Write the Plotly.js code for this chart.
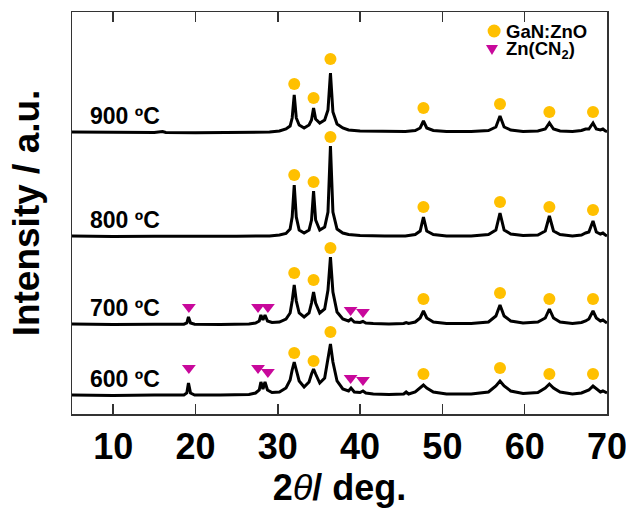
<!DOCTYPE html>
<html>
<head>
<meta charset="utf-8">
<script src="https://cdn.plot.ly/plotly-3.0.1.min.js"></script>
<style>html,body{margin:0;padding:0;background:#fff;}#chart{width:626px;height:508px;}</style>
</head>
<body>
<div id="chart"></div>
<script>
// ---- data (2theta in degrees, intensity in arbitrary units) ----
const temperatures = ['900 ºC', '800 ºC', '700 ºC', '600 ºC'];

const pattern900 = [[5,1],[10,0.5],[15,0.5],[16,1.5],[16.4,0.5],[20,0.3],[25,0.5],[29,1],[30.2,2],[31.0,4],[31.5,7],[31.75,15],[32.0,38],[32.25,15],[32.6,8],[33.2,5],[33.8,8],[34.1,13],[34.35,25],[34.6,14],[35.1,10],[35.7,13],[36.1,23],[36.4,60],[36.7,21],[37.2,9],[37.9,5],[38.6,3],[40,2],[43,1.5],[45.5,1.5],[46.7,2.5],[47.3,5],[47.7,12],[48.1,5],[48.9,2.5],[50.5,1.5],[53.5,1.5],[55.6,2.5],[56.5,6],[57.0,17],[57.5,6],[58.3,3],[59.8,1.5],[61.6,2],[62.5,4],[63.0,10],[63.5,4],[64.3,2],[65.8,1.5],[66.9,2.5],[67.4,4],[67.8,4],[68.3,10],[68.7,4],[69.2,3],[69.5,4],[69.8,2],[70,1.5]];

const pattern800 = [[5,1],[10,0.5],[15,0.8],[20,0.5],[25,0.8],[29,1],[30.2,2],[31.0,3.5],[31.5,8],[31.75,20],[32.0,52],[32.25,20],[32.6,7],[33.2,4],[33.8,7],[34.1,17],[34.35,46],[34.6,17],[35.1,7],[35.7,10],[36.1,25],[36.4,91],[36.7,25],[37.2,8],[37.9,4],[38.6,2.5],[40,1.5],[43,1],[45.5,1],[46.7,2.5],[47.3,6],[47.7,20],[48.1,6],[48.9,2.5],[50.5,1],[53.5,1],[55.6,2.5],[56.5,7],[57.0,24],[57.5,7],[58.3,3],[59.8,1.5],[61.6,2],[62.5,6],[63.0,21],[63.5,6],[64.3,2.5],[65.8,1],[66.9,2],[67.4,4],[67.8,5],[68.3,16],[68.7,5],[69.2,3],[69.5,4],[69.8,2],[70,1]];

const pattern700 = [[5,1],[10,0.5],[15,0.8],[18.6,0.8],[18.95,2],[19.15,8],[19.4,2],[19.9,0.8],[23,0.5],[26.5,1],[27.3,2],[27.75,4],[27.95,10],[28.2,5],[28.45,10],[28.75,4],[29.3,2.5],[30.2,3],[31.0,6],[31.5,12],[31.75,24],[32.0,40],[32.25,24],[32.6,12],[33.2,8],[33.8,12],[34.1,22],[34.35,33],[34.6,22],[35.1,12],[35.7,16],[36.1,35],[36.4,68],[36.7,33],[37.2,13],[37.9,6],[38.6,4],[38.9,6],[39.3,3],[40.0,2.5],[40.35,3.5],[40.7,2],[41.6,1.5],[43.5,1],[45.3,1.5],[45.6,2.5],[45.9,1.5],[46.7,3],[47.3,7],[47.7,14],[48.1,7],[48.9,3],[50.5,1.5],[53.5,1.5],[55.6,3],[56.5,9],[57.0,20],[57.5,9],[58.3,4],[59.8,2],[61.6,3],[62.5,7],[63.0,16],[63.5,7],[64.3,3],[65.8,1.5],[66.9,2.5],[67.4,4],[67.8,6],[68.3,14],[68.7,7],[69.2,4],[69.5,5],[69.8,3],[70,2]];

const pattern600 = [[5,1],[10,0.5],[15,1],[18.6,1],[18.95,3],[19.15,13],[19.4,3],[19.9,1],[23,1],[26.5,1.5],[27.3,3],[27.75,6],[27.95,14],[28.2,7],[28.45,14],[28.75,6],[29.3,3.5],[30.2,4],[31.0,8],[31.5,16],[31.75,26],[32.0,34],[32.25,26],[32.6,15],[33.2,9],[33.8,14],[34.1,22],[34.35,27],[34.6,22],[35.1,13],[35.7,18],[36.1,36],[36.4,52],[36.7,34],[37.2,15],[37.9,7],[38.6,5],[38.9,8],[39.3,4],[40.0,3.5],[40.35,5],[40.7,3],[41.6,2],[43.5,1.5],[45.3,2],[45.6,4],[45.9,2],[46.7,4],[47.3,8],[47.7,11],[48.1,8],[48.9,4],[50.5,2],[53.5,2],[55.6,4],[56.5,10],[57.0,15],[57.5,10],[58.3,5],[59.8,2.5],[61.6,3.5],[62.5,8],[63.0,12],[63.5,8],[64.3,4],[65.8,2],[66.9,3],[67.4,5],[67.8,6],[68.3,10],[68.7,7],[69.2,4],[69.5,5],[69.8,4],[70,3]];

// GaN:ZnO reflections and marker heights (same units) per pattern
const ganznoPos = [32.0, 34.35, 36.4, 47.7, 57.0, 63.0, 68.3];
const ganznoMark900 = [49, 35, 74, 25, 29, 21, 21];
const ganznoMark800 = [62, 55, 100, 30, 35, 30, 27];
const ganznoMark700 = [52, 45, 77, 26, 32, 26, 26];
const ganznoMark600 = [43, 35, 64, 22, 28, 22, 22];

// Zn(CN2) reflections and marker heights
const zncn2Pos = [19.2, 27.6, 28.8, 38.85, 40.35];
const zncn2Mark700 = [18, 18, 18, 15, 13];
const zncn2Mark600 = [28, 28, 24, 18, 16];

const legendLabels = ['GaN:ZnO', 'Zn(CN<sub>2</sub>)'];
const ganColor = '#FFC000';
const cnColor = '#C8089B';

// ---- layout constants ----
const offsets = [281, 177, 89, 18];
const patterns = [pattern900, pattern800, pattern700, pattern600];
const ganMarks = [ganznoMark900, ganznoMark800, ganznoMark700, ganznoMark600];
const cnMarks = [null, null, zncn2Mark700, zncn2Mark600];

const FONT = 'Arial, "Liberation Sans", sans-serif';
const traces = [];
patterns.forEach((p, i) => {
  traces.push({
    type: 'scatter', mode: 'lines', name: temperatures[i],
    x: p.map(d => d[0]),
    y: p.map(d => d[1] + offsets[i]),
    line: {color: '#000', width: 3},
    showlegend: false, hoverinfo: 'skip'
  });
});

const gx = [], gy = [], cx = [], cy = [];
ganMarks.forEach((m, i) => m.forEach((v, k) => { gx.push(ganznoPos[k]); gy.push(v + offsets[i]); }));
cnMarks.forEach((m, i) => { if (m) m.forEach((v, k) => { cx.push(zncn2Pos[k]); cy.push(v + offsets[i]); }); });

traces.push({
  type: 'scatter', mode: 'markers', name: 'GaN:ZnO', showlegend: false,
  x: gx, y: gy,
  marker: {symbol: 'circle', size: 12, color: ganColor}
});
traces.push({
  type: 'scatter', mode: 'markers', name: 'Zn(CN2)', showlegend: false,
  x: cx, y: cy,
  marker: {symbol: 'triangle-down', size: 12, color: cnColor}
});

const annotations = temperatures.map((t, i) => ({
  text: '<b>' + t + '</b>',
  xref: 'paper', x: 0.03, xanchor: 'left',
  yref: 'y', y: offsets[i] + 17, yanchor: 'middle',
  showarrow: false,
  font: {family: FONT, size: 23, color: '#000'}
}));

// hand-drawn legend (compact rows as in the reference)
const legendY = [0.9527, 0.9055];
legendLabels.forEach((lab, i) => {
  annotations.push({
    text: '<b>' + lab + '</b>',
    xref: 'paper', x: 0.808, xanchor: 'left',
    yref: 'paper', y: legendY[i], yanchor: 'middle',
    showarrow: false,
    font: {family: FONT, size: 18.5, color: '#000'}
  });
});
const shapes = [
  {type: 'circle', xref: 'paper', yref: 'paper', xsizemode: 'pixel', ysizemode: 'pixel',
   xanchor: 0.789, yanchor: legendY[0], x0: -6.5, x1: 6.5, y0: -6.5, y1: 6.5,
   fillcolor: ganColor, line: {width: 0}},
  {type: 'path', xref: 'paper', yref: 'paper', xsizemode: 'pixel', ysizemode: 'pixel',
   xanchor: 0.785, yanchor: legendY[1], path: 'M -6 5 L 6 5 L 0 -5 Z',
   fillcolor: cnColor, line: {width: 0}}
];

const layout = {
  width: 626, height: 508,
  margin: {l: 72, r: 19, t: 12, b: 94},
  paper_bgcolor: '#fff', plot_bgcolor: '#fff',
  showlegend: false,
  xaxis: {
    range: [5, 70],
    tickvals: [10, 20, 30, 40, 50, 60, 70],
    ticks: 'inside', ticklen: 10, tickwidth: 1.5, tickcolor: '#333',
    ticklabeloverflow: 'allow',
    showline: true, linecolor: '#333', linewidth: 1.5, mirror: 'ticks',
    showgrid: false, zeroline: false,
    tickfont: {family: FONT, size: 36, color: '#000', weight: 'bold'},
    title: {text: '<b>2</b><i>θ</i><b>/ deg.</b>', font: {family: FONT, size: 36, color: '#000'}, standoff: 6}
  },
  yaxis: {
    range: [0, 402],
    showticklabels: false, ticks: '',
    showline: true, linecolor: '#333', linewidth: 1.5, mirror: true,
    showgrid: false, zeroline: false,
    title: {text: '<b>Intensity / a.u.</b>', font: {family: FONT, size: 37, color: '#000'}, standoff: 19}
  },
  annotations: annotations,
  shapes: shapes
};

Plotly.newPlot('chart', traces, layout, {displayModeBar: false, staticPlot: true});
</script>
</body>
</html>
